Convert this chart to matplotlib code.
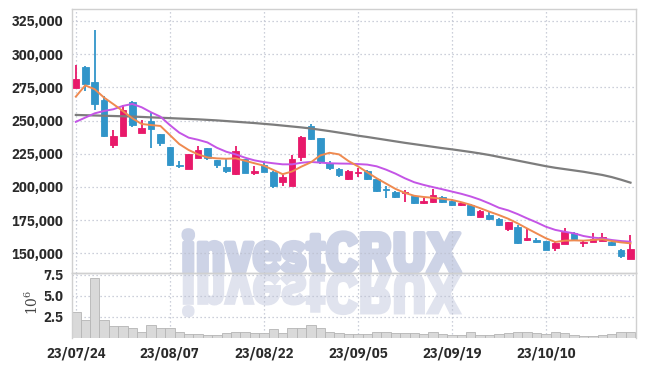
import matplotlib
matplotlib.use("Agg")
import matplotlib.pyplot as plt
import matplotlib.patheffects as pe
import numpy as np
from matplotlib.font_manager import FontProperties
from matplotlib.textpath import TextPath
from matplotlib.patches import PathPatch
from matplotlib.ticker import FuncFormatter

plt.rcParams['font.family'] = ['IBM Plex Sans Condensed', 'DejaVu Sans']
plt.rcParams['mathtext.fontset'] = 'dejavuserif'

# 날짜 라벨 (10 거래일 간격)
tick_labels = ["23/07/24", "23/08/07", "23/08/22", "23/09/05", "23/09/19", "23/10/10"]

# 시가 / 고가 / 저가 / 종가
opens = [274800, 290400, 279100, 265500, 231500, 238600, 264000, 240800, 249700, 239800,
         230000, 216700, 213400, 222000, 229000, 220500, 214800, 209600, 221200, 210800,
         216500, 211300, 203600, 200400, 222500, 245800, 236600, 217800, 213500, 205600,
         210100, 211900, 205700, 198300, 196500, 195600, 192800, 187600, 188400, 192300,
         189600, 186600, 186600, 177200, 178500, 176000, 168500, 169500, 160000, 159700,
         159000, 154200, 157200, 165200, 158000, 158700, 159500, 158700, 152500, 146000]
highs = [291600, 291000, 318400, 268500, 242600, 261500, 264500, 250400, 255500, 239800,
         230000, 219500, 225000, 230500, 229000, 220500, 221000, 230900, 221200, 215800,
         218500, 211800, 209100, 223700, 238600, 247500, 237100, 219700, 214000, 212800,
         214500, 212400, 206200, 200300, 197000, 197800, 193300, 191600, 198500, 192800,
         191100, 188400, 187100, 182400, 181700, 176500, 173700, 171200, 168200, 161200,
         159500, 158700, 168700, 165700, 160000, 165000, 165000, 159200, 153000, 163500]
lows = [274300, 272000, 258000, 237800, 229500, 238600, 245400, 240300, 229000, 230500,
        215400, 214400, 213400, 221500, 220500, 214400, 210800, 209100, 210300, 208600,
        211000, 198900, 200400, 200400, 219700, 235400, 217000, 212600, 207100, 205400,
        207800, 205200, 196500, 191600, 191600, 188600, 187400, 187100, 187900, 187900,
        185900, 185900, 178200, 177000, 175000, 170800, 166500, 156700, 159500, 157500,
        152200, 152000, 157200, 160000, 155000, 158500, 159200, 155500, 146700, 145700]
closes = [281300, 277600, 262500, 238300, 238600, 258000, 246900, 244400, 243900, 233300,
          216400, 215400, 224700, 227500, 222000, 216500, 211600, 226900, 210800, 212100,
          211300, 200900, 207100, 221000, 237400, 235900, 218500, 214500, 208600, 212100,
          211300, 205700, 197000, 197500, 192100, 196300, 187600, 189600, 194100, 188400,
          186100, 187600, 179200, 181700, 175500, 171000, 173200, 157500, 161200, 158500,
          152500, 157700, 166000, 161000, 158700, 160500, 162200, 156200, 148200, 153000]

# 이동평균선
ma_short = [268000, 276500, 273600, 267300, 262300, 257200, 251700, 247400, 246600, 245900,
            239100, 232300, 227800, 224500, 222200, 221500, 221200, 221500, 219700, 217800,
            216000, 212800, 209600, 211600, 215300, 218500, 223700, 225700, 224500, 219500,
            215500, 211000, 206500, 202500, 198500, 195500, 193300, 192400, 191800, 191000,
            190200, 188500, 186500, 184000, 181300, 178800, 176000, 172500, 168700, 165000,
            161300, 158500, 159500, 159700, 159500, 160000, 160500, 159200, 158200, 157500]
ma_mid = [249000, 252200, 255400, 257200, 258500, 261000, 262500, 260000, 256200, 252900,
          246600, 240900, 237100, 235500, 233500, 229500, 226500, 224500, 222000, 220000,
          218700, 217800, 217000, 217000, 218200, 218800, 218300, 217800, 217600, 217500,
          217200, 216800, 215500, 213000, 210000, 206500, 203500, 201500, 199800, 198200,
          196500, 194800, 192800, 190400, 187500, 184300, 182300, 179500, 176300, 173300,
          170000, 167600, 166200, 165000, 163000, 161800, 161200, 160000, 159200, 158700]
ma_long = [254200, 254000, 253800, 253600, 253400, 253200, 253000, 252700, 252400, 252100,
           251800, 251500, 251200, 250900, 250500, 250100, 249600, 249100, 248600, 248100,
           247500, 246900, 246200, 245500, 244800, 244000, 243000, 242000, 240900, 239800,
           238600, 237600, 236500, 235400, 234300, 233200, 232200, 231200, 230200, 229200,
           228300, 227300, 226300, 225200, 224000, 222600, 221200, 219800, 218400, 217000,
           215600, 214400, 213400, 212400, 211400, 210200, 209000, 207400, 205400, 203200]

# 거래량 (백만)
volumes = [3.09, 2.18, 7.08, 2.15, 1.44, 1.44, 1.21, 0.66, 1.56, 1.21,
           1.21, 0.77, 0.50, 0.50, 0.39, 0.39, 0.54, 0.77, 0.77, 0.54,
           0.54, 1.04, 0.54, 1.24, 1.21, 1.52, 1.21, 0.72, 0.54, 0.42,
           0.42, 0.42, 0.74, 0.74, 0.54, 0.54, 0.54, 0.42, 0.66, 0.42,
           0.30, 0.30, 0.66, 0.30, 0.30, 0.42, 0.54, 0.77, 0.66, 0.54,
           0.42, 0.66, 0.54, 0.30, 0.25, 0.25, 0.30, 0.42, 0.66, 0.77]

UP = "#e8196a"
DOWN = "#3195c9"
GRID = "#bcc0cf"
SPINE = "#d0d0d0"
TXT = "#2a2a2a"
WM = "#cdd3e6"

o = np.array(opens)
c = np.array(closes)
x = np.arange(len(opens))
colors = [UP if cl >= op else DOWN for op, cl in zip(opens, closes)]

fig = plt.figure(figsize=(6.45, 3.66), dpi=100)

# 배경 워터마크 (픽셀 좌표)
bg = fig.add_axes([0, 0, 1, 1], zorder=0)
wm_pt = 40
wm_prop = FontProperties(family=['IBM Plex Sans Condensed', 'DejaVu Sans'], weight=700, size=wm_pt)
bg.text(181, 272, "investCRUX", fontproperties=wm_prop, color=WM,
        ha='left', va='baseline',
        path_effects=[pe.withStroke(linewidth=3.2, foreground=WM)])
# 반사 효과: y축이 아래로 향하므로 TextPath를 그대로 놓으면 뒤집혀 보인다
refl = TextPath((181, 274), "investCRUX", size=wm_pt * 100 / 72, prop=wm_prop)
bg.add_patch(PathPatch(refl, facecolor="#e0e3ee", edgecolor="#e0e3ee", lw=2.4))
bg.set_xlim(0, 645)
bg.set_ylim(366, 0)
bg.axis('off')

ax = fig.add_axes([0.111, 0.2549, 0.8745, 0.7197], zorder=2)
axv = fig.add_axes([0.111, 0.0765, 0.8745, 0.1784], zorder=2, sharex=ax)
for a in (ax, axv):
    a.set_facecolor('none')
    a.grid(True, ls=(0, (1, 2.2)), color=GRID, lw=0.9)
    a.set_axisbelow(True)
    for s in a.spines.values():
        s.set_color(SPINE)
        s.set_linewidth(1.0)
    a.tick_params(length=0, colors=TXT, labelsize=10.5, pad=6)

# 캔들
ax.vlines(x, lows, highs, color=colors, lw=1.3, zorder=2)
ax.bar(x, np.abs(c - o), bottom=np.minimum(o, c), width=0.7, color=colors,
       edgecolor=colors, lw=0.6, zorder=3)

ax.plot(x, ma_long, color="#7d7d7d", lw=1.6, zorder=4)
ax.plot(x, ma_mid, color="#c455e6", lw=1.4, zorder=4)
ax.plot(x, ma_short, color="#ef8a50", lw=1.4, zorder=4)

ax.set_ylim(135350, 333800)
ax.set_yticks(range(150000, 325001, 25000))
ax.yaxis.set_major_formatter(FuncFormatter(lambda v, p: f"{v:,.0f}"))
ax.set_xlim(-0.45, len(opens) - 0.45)
ax.set_xticks(x[::10])
ax.tick_params(axis='x', labelbottom=False)

# 거래량
axv.bar(x, volumes, width=1.0, color="#d9d9d9", edgecolor="#b5b5b5", lw=0.6, zorder=2)
axv.set_ylim(0, 7.75)
axv.set_yticks([2.5, 5.0, 7.5])
axv.yaxis.set_major_formatter(FuncFormatter(lambda v, p: f"{v:.1f}"))
axv.set_xticks(x[::10])
axv.set_xticklabels(tick_labels)
axv.spines['bottom'].set_visible(False)
axv.set_ylabel(r"$10^{6}$", fontsize=10, color="#444444")
axv.yaxis.set_label_coords(-0.055, 0.55)

for lab in ax.get_yticklabels() + axv.get_yticklabels() + axv.get_xticklabels():
    lab.set_fontweight(700)

fig.savefig("out.png", dpi=100)
